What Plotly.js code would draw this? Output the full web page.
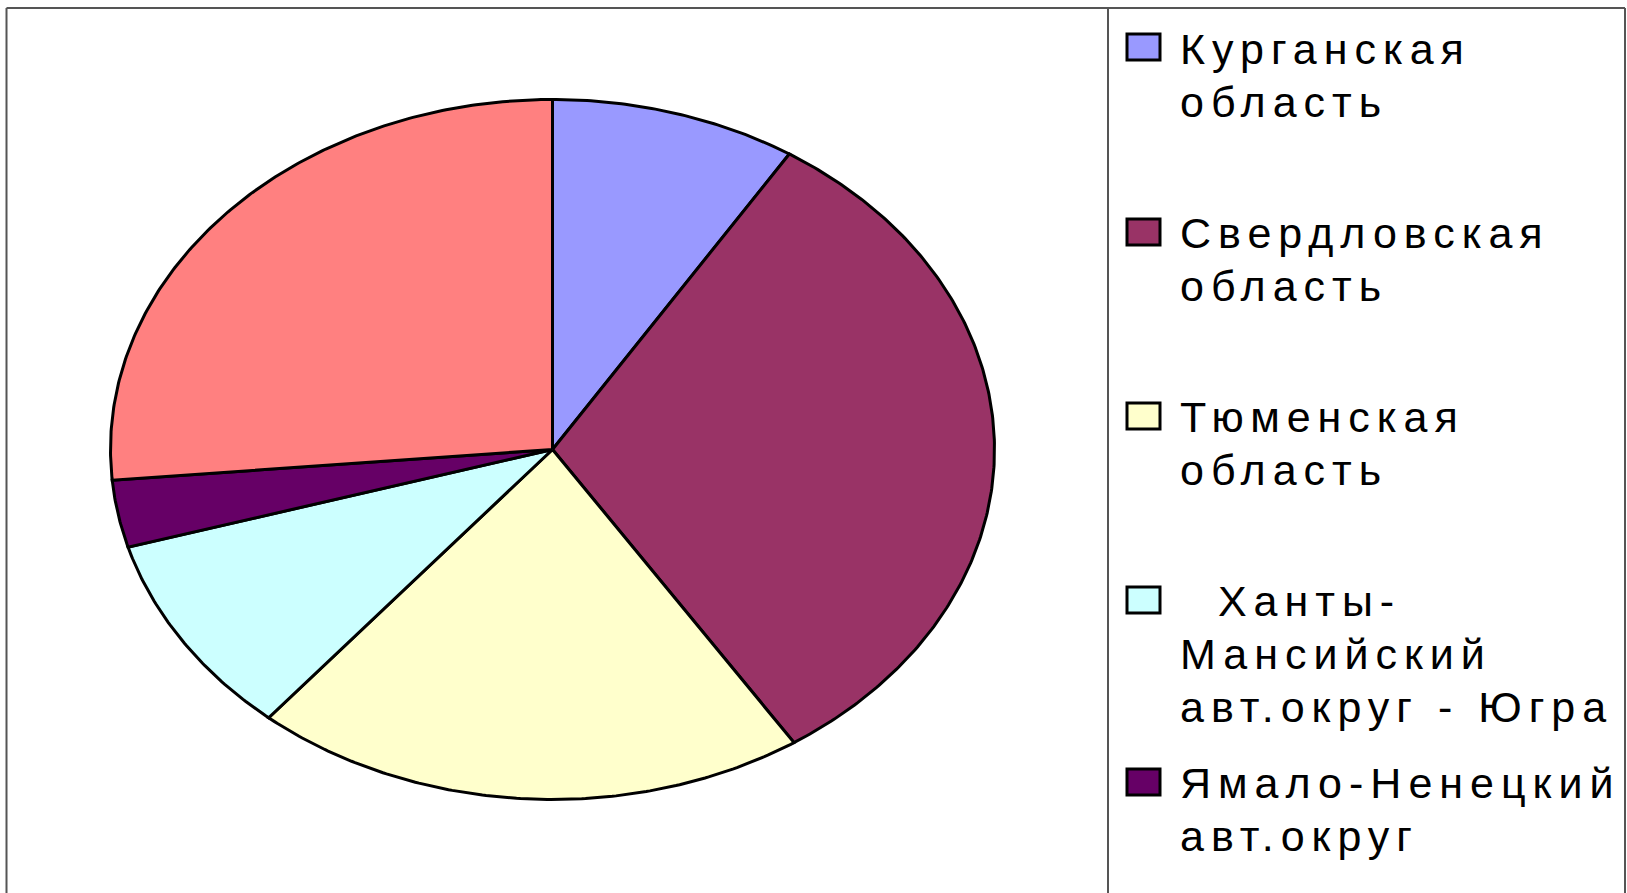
<!DOCTYPE html>
<html>
<head>
<meta charset="utf-8">
<script src="https://cdn.plot.ly/plotly-3.0.1.min.js"></script>
<style>
  html, body { margin: 0; padding: 0; background: #ffffff; }
  #chart { width: 1627px; height: 893px; }
  .annotation-text { letter-spacing: 7px; }
</style>
</head>
<body>
<div id="chart"></div>
<script>
// ---- data ----
const regions = [
  'Курганская область',
  'Свердловская область',
  'Тюменская область',
  'Ханты-Мансийский авт.округ - Югра',
  'Ямало-Ненецкий авт.округ',
  'Челябинская область'
];
const shares = [9.0, 31.8, 20.3, 9.4, 3.1, 26.4];
const colors = ['#9999FF', '#993366', '#FFFFCC', '#CCFFFF', '#660066', '#FF8080'];
const legendLabels = [
  ['Курганская', 'область'],
  ['Свердловская', 'область'],
  ['Тюменская', 'область'],
  ['\u00a0\u00a0Ханты-', 'Мансийский', 'авт.округ - Югра'],
  ['Ямало-Ненецкий', 'авт.округ']
];

// ---- geometry (layout) ----
const W = 1627, H = 893;
const cx = 552.5, cy = 449.5, rx = 442, ry = 350;
const fontSize = 43;
const legendTextX = 1178;
const legendBaseline = [63, 247, 431, 615, 797];
const lineStep = 53;
const swatchTop = [34, 219, 403, 587, 769];
const swatchX = [1127, 1160];
const swatchH = 26;

const total = shares.reduce((a, b) => a + b, 0);
let cum = 0;
const traces = shares.map((v, i) => {
  const a0 = cum / total * 2 * Math.PI;
  cum += v;
  const a1 = cum / total * 2 * Math.PI;
  const n = Math.max(2, Math.ceil((a1 - a0) / (Math.PI / 360)));
  const xs = [0], ys = [0];
  for (let k = 0; k <= n; k++) {
    const a = a0 + (a1 - a0) * k / n;
    xs.push(Math.sin(a));
    ys.push(Math.cos(a));
  }
  xs.push(0); ys.push(0);
  return {
    type: 'scatter', mode: 'lines', x: xs, y: ys,
    fill: 'toself', fillcolor: colors[i],
    line: { color: '#000000', width: 3 },
    name: regions[i], showlegend: false, hoverinfo: 'name'
  };
});

const px = x => x / W;
const py = y => 1 - y / H;

const shapes = [];
const frame = { type: 'line', xref: 'paper', yref: 'paper', line: { color: '#555555', width: 2 } };
shapes.push(Object.assign({}, frame, { x0: px(6.5), x1: px(1625), y0: py(8), y1: py(8) }));
shapes.push(Object.assign({}, frame, { x0: px(6.5), x1: px(6.5), y0: py(8), y1: py(H) }));
shapes.push(Object.assign({}, frame, { x0: px(1108), x1: px(1108), y0: py(8), y1: py(H) }));
shapes.push(Object.assign({}, frame, { x0: px(1625), x1: px(1625), y0: py(8), y1: py(H) }));

const annotations = [];
legendLabels.forEach((lines, i) => {
  shapes.push({
    type: 'rect', xref: 'paper', yref: 'paper',
    x0: px(swatchX[0]), x1: px(swatchX[1]),
    y0: py(swatchTop[i]), y1: py(swatchTop[i] + swatchH),
    fillcolor: colors[i], line: { color: '#000000', width: 3 }
  });
  lines.forEach((t, j) => {
    const base = legendBaseline[i] + j * lineStep;
    annotations.push({
      xref: 'paper', yref: 'paper', x: px(legendTextX), y: py(base - 0.905 * fontSize - 1),
      xanchor: 'left', yanchor: 'top', align: 'left', showarrow: false,
      text: t,
      font: { family: 'Liberation Sans, Arial, sans-serif', size: fontSize, color: '#000000' }
    });
  });
});

const layout = {
  width: W, height: H,
  margin: { l: 0, r: 0, t: 0, b: 0 },
  paper_bgcolor: '#ffffff', plot_bgcolor: '#ffffff',
  showlegend: false,
  xaxis: { range: [-cx / rx, (W - cx) / rx], visible: false, fixedrange: true },
  yaxis: { range: [-(H - cy) / ry, cy / ry], visible: false, fixedrange: true },
  shapes: shapes,
  annotations: annotations
};

Plotly.newPlot('chart', traces, layout, { displayModeBar: false, staticPlot: true });
</script>
</body>
</html>
